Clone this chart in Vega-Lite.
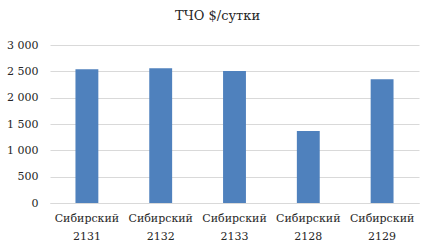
{
  "$schema": "https://vega.github.io/schema/vega-lite/v6.json",
  "autosize": {"type": "none"},
  "width": 369,
  "height": 158,
  "padding": {"left": 50, "top": 45, "right": 16, "bottom": 49},
  "background": "white",
  "title": {
    "text": "ТЧО $/сутки",
    "font": "DejaVu Serif",
    "fontSize": 13,
    "fontWeight": "normal",
    "color": "#262626",
    "anchor": "middle",
    "dx": -17,
    "offset": 16
  },
  "data": {
    "values": [
      {"vessel": "Сибирский 2131", "rate": 2540},
      {"vessel": "Сибирский 2132", "rate": 2560},
      {"vessel": "Сибирский 2133", "rate": 2505},
      {"vessel": "Сибирский 2128", "rate": 1367},
      {"vessel": "Сибирский 2129", "rate": 2350}
    ]
  },
  "mark": {"type": "bar", "color": "#4f81bd"},
  "encoding": {
    "x": {
      "field": "vessel",
      "type": "nominal",
      "sort": null,
      "title": null,
      "scale": {"paddingInner": 0.69, "paddingOuter": 0.345},
      "axis": {
        "labelAngle": 0,
        "labelExpr": "split(datum.label, ' ')",
        "labelFont": "DejaVu Serif",
        "labelFontSize": 11,
        "labelLineHeight": 18,
        "labelColor": "#262626",
        "labelPadding": 9,
        "ticks": false,
        "domainColor": "#d9d9d9",
        "domainWidth": 1
      }
    },
    "y": {
      "field": "rate",
      "type": "quantitative",
      "title": null,
      "scale": {"domain": [0, 3000]},
      "axis": {
        "values": [0, 500, 1000, 1500, 2000, 2500, 3000],
        "labelExpr": "replace(format(datum.value, ','), ',', ' ')",
        "labelFont": "DejaVu Serif",
        "labelFontSize": 11,
        "labelColor": "#262626",
        "labelPadding": 12,
        "ticks": false,
        "domain": false,
        "gridColor": "#d9d9d9",
        "gridWidth": 1
      }
    }
  },
  "config": {"view": {"stroke": null}}
}
